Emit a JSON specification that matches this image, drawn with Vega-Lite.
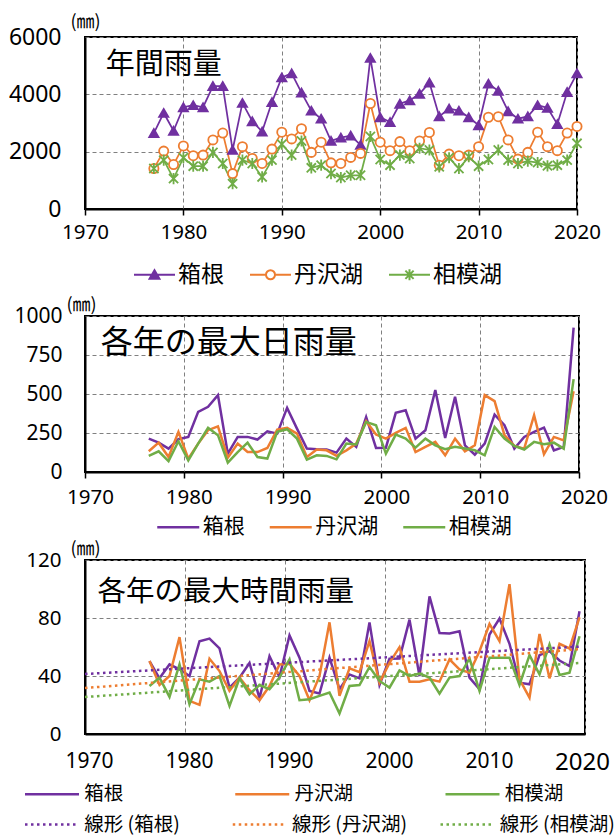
{
"$schema":"https://vega.github.io/schema/vega-lite/v6.json",
"padding":{"left":0,"top":12,"right":0,"bottom":0},
"spacing":0,
"resolve":{
 "scale":{"color":"independent","stroke":"independent","fill":"independent","shape":"independent","strokeDash":"independent"},
 "legend":{"color":"independent","stroke":"independent","fill":"independent","shape":"independent","strokeDash":"independent"}
},
"config":{
 "view":{"stroke":"black","strokeWidth":2},
 "axis":{"labelFont":"Noto Sans","labelColor":"black","labelOverlap":false,"gridColor":"#808080","gridDash":[4,3],"gridWidth":1,"domainColor":"black","domainWidth":2,"tickColor":"black","tickWidth":1.5,"titleFont":"Noto Sans CJK JP","titleFontWeight":"normal","titleColor":"black"},
 "axisX":{"labelFlush":false},
 "legend":{"labelFont":"Noto Sans CJK JP","labelColor":"black"},
 "text":{"font":"Noto Sans CJK JP"}
},
"datasets":{
"annual":[
{"year":1977,"site":"箱根","mm":2650},{"year":1978,"site":"箱根","mm":3350},{"year":1979,"site":"箱根","mm":2730},{"year":1980,"site":"箱根","mm":3550},{"year":1981,"site":"箱根","mm":3620},{"year":1982,"site":"箱根","mm":3550},{"year":1983,"site":"箱根","mm":4290},{"year":1984,"site":"箱根","mm":4290},{"year":1985,"site":"箱根","mm":2060},{"year":1986,"site":"箱根","mm":3700},
{"year":1987,"site":"箱根","mm":3060},{"year":1988,"site":"箱根","mm":2700},{"year":1989,"site":"箱根","mm":3730},{"year":1990,"site":"箱根","mm":4590},{"year":1991,"site":"箱根","mm":4730},{"year":1992,"site":"箱根","mm":4060},{"year":1993,"site":"箱根","mm":3430},{"year":1994,"site":"箱根","mm":3150},{"year":1995,"site":"箱根","mm":2375},{"year":1996,"site":"箱根","mm":2490},
{"year":1997,"site":"箱根","mm":2560},{"year":1998,"site":"箱根","mm":2235},{"year":1999,"site":"箱根","mm":5270},{"year":2000,"site":"箱根","mm":3200},{"year":2001,"site":"箱根","mm":3030},{"year":2002,"site":"箱根","mm":3670},{"year":2003,"site":"箱根","mm":3790},{"year":2004,"site":"箱根","mm":4020},{"year":2005,"site":"箱根","mm":4410},{"year":2006,"site":"箱根","mm":3230},
{"year":2007,"site":"箱根","mm":3500},{"year":2008,"site":"箱根","mm":3430},{"year":2009,"site":"箱根","mm":3200},{"year":2010,"site":"箱根","mm":2920},{"year":2011,"site":"箱根","mm":4370},{"year":2012,"site":"箱根","mm":4120},{"year":2013,"site":"箱根","mm":3410},{"year":2014,"site":"箱根","mm":3150},{"year":2015,"site":"箱根","mm":3230},{"year":2016,"site":"箱根","mm":3620},
{"year":2017,"site":"箱根","mm":3530},{"year":2018,"site":"箱根","mm":2960},{"year":2019,"site":"箱根","mm":4080},{"year":2020,"site":"箱根","mm":4730},
{"year":1977,"site":"丹沢湖","mm":1410},{"year":1978,"site":"丹沢湖","mm":2020},{"year":1979,"site":"丹沢湖","mm":1550},{"year":1980,"site":"丹沢湖","mm":2200},{"year":1981,"site":"丹沢湖","mm":1860},{"year":1982,"site":"丹沢湖","mm":1880},{"year":1983,"site":"丹沢湖","mm":2410},{"year":1984,"site":"丹沢湖","mm":2650},{"year":1985,"site":"丹沢湖","mm":1235},{"year":1986,"site":"丹沢湖","mm":2175},
{"year":1987,"site":"丹沢湖","mm":1765},{"year":1988,"site":"丹沢湖","mm":1590},{"year":1989,"site":"丹沢湖","mm":2090},{"year":1990,"site":"丹沢湖","mm":2680},{"year":1991,"site":"丹沢湖","mm":2445},{"year":1992,"site":"丹沢湖","mm":2800},{"year":1993,"site":"丹沢湖","mm":1975},{"year":1994,"site":"丹沢湖","mm":2330},{"year":1995,"site":"丹沢湖","mm":1610},{"year":1996,"site":"丹沢湖","mm":1590},
{"year":1997,"site":"丹沢湖","mm":1800},{"year":1998,"site":"丹沢湖","mm":1940},{"year":1999,"site":"丹沢湖","mm":3680},{"year":2000,"site":"丹沢湖","mm":2330},{"year":2001,"site":"丹沢湖","mm":2035},{"year":2002,"site":"丹沢湖","mm":2350},{"year":2003,"site":"丹沢湖","mm":2035},{"year":2004,"site":"丹沢湖","mm":2375},{"year":2005,"site":"丹沢湖","mm":2670},{"year":2006,"site":"丹沢湖","mm":1530},
{"year":2007,"site":"丹沢湖","mm":1915},{"year":2008,"site":"丹沢湖","mm":1860},{"year":2009,"site":"丹沢湖","mm":1880},{"year":2010,"site":"丹沢湖","mm":2175},{"year":2011,"site":"丹沢湖","mm":3200},{"year":2012,"site":"丹沢湖","mm":3220},{"year":2013,"site":"丹沢湖","mm":2410},{"year":2014,"site":"丹沢湖","mm":1740},{"year":2015,"site":"丹沢湖","mm":1975},{"year":2016,"site":"丹沢湖","mm":2680},
{"year":2017,"site":"丹沢湖","mm":2175},{"year":2018,"site":"丹沢湖","mm":2035},{"year":2019,"site":"丹沢湖","mm":2650},{"year":2020,"site":"丹沢湖","mm":2880},
{"year":1977,"site":"相模湖","mm":1410},{"year":1978,"site":"相模湖","mm":1705},{"year":1979,"site":"相模湖","mm":1060},{"year":1980,"site":"相模湖","mm":1790},{"year":1981,"site":"相模湖","mm":1495},{"year":1982,"site":"相模湖","mm":1495},{"year":1983,"site":"相模湖","mm":1975},{"year":1984,"site":"相模湖","mm":1590},{"year":1985,"site":"相模湖","mm":880},{"year":1986,"site":"相模湖","mm":1705},
{"year":1987,"site":"相模湖","mm":1590},{"year":1988,"site":"相模湖","mm":1120},{"year":1989,"site":"相模湖","mm":1705},{"year":1990,"site":"相模湖","mm":2260},{"year":1991,"site":"相模湖","mm":1880},{"year":1992,"site":"相模湖","mm":2375},{"year":1993,"site":"相模湖","mm":1435},{"year":1994,"site":"相模湖","mm":1530},{"year":1995,"site":"相模湖","mm":1235},{"year":1996,"site":"相模湖","mm":1095},
{"year":1997,"site":"相模湖","mm":1175},{"year":1998,"site":"相模湖","mm":1175},{"year":1999,"site":"相模湖","mm":2530},{"year":2000,"site":"相模湖","mm":1730},{"year":2001,"site":"相模湖","mm":1530},{"year":2002,"site":"相模湖","mm":1880},{"year":2003,"site":"相模湖","mm":1765},{"year":2004,"site":"相模湖","mm":2120},{"year":2005,"site":"相模湖","mm":2060},{"year":2006,"site":"相模湖","mm":1470},
{"year":2007,"site":"相模湖","mm":1790},{"year":2008,"site":"相模湖","mm":1410},{"year":2009,"site":"相模湖","mm":1820},{"year":2010,"site":"相模湖","mm":1495},{"year":2011,"site":"相模湖","mm":1730},{"year":2012,"site":"相模湖","mm":2060},{"year":2013,"site":"相模湖","mm":1705},{"year":2014,"site":"相模湖","mm":1590},{"year":2015,"site":"相模湖","mm":1670},{"year":2016,"site":"相模湖","mm":1620},
{"year":2017,"site":"相模湖","mm":1505},{"year":2018,"site":"相模湖","mm":1530},{"year":2019,"site":"相模湖","mm":1705},{"year":2020,"site":"相模湖","mm":2290}
],
"daily":[
{"year":1976,"site":"箱根","mm":214},{"year":1977,"site":"箱根","mm":188},{"year":1978,"site":"箱根","mm":150},{"year":1979,"site":"箱根","mm":210},{"year":1980,"site":"箱根","mm":225},{"year":1981,"site":"箱根","mm":386},{"year":1982,"site":"箱根","mm":418},{"year":1983,"site":"箱根","mm":493},{"year":1984,"site":"箱根","mm":118},{"year":1985,"site":"箱根","mm":225},
{"year":1986,"site":"箱根","mm":225},{"year":1987,"site":"箱根","mm":208},{"year":1988,"site":"箱根","mm":261},{"year":1989,"site":"箱根","mm":246},{"year":1990,"site":"箱根","mm":411},{"year":1991,"site":"箱根","mm":278},{"year":1992,"site":"箱根","mm":150},{"year":1993,"site":"箱根","mm":146},{"year":1994,"site":"箱根","mm":144},{"year":1995,"site":"箱根","mm":124},
{"year":1996,"site":"箱根","mm":214},{"year":1997,"site":"箱根","mm":161},{"year":1998,"site":"箱根","mm":353},{"year":1999,"site":"箱根","mm":154},{"year":2000,"site":"箱根","mm":156},{"year":2001,"site":"箱根","mm":379},{"year":2002,"site":"箱根","mm":396},{"year":2003,"site":"箱根","mm":214},{"year":2004,"site":"箱根","mm":268},{"year":2005,"site":"箱根","mm":525},
{"year":2006,"site":"箱根","mm":218},{"year":2007,"site":"箱根","mm":482},{"year":2008,"site":"箱根","mm":171},{"year":2009,"site":"箱根","mm":111},{"year":2010,"site":"箱根","mm":182},{"year":2011,"site":"箱根","mm":368},{"year":2012,"site":"箱根","mm":300},{"year":2013,"site":"箱根","mm":150},{"year":2014,"site":"箱根","mm":225},{"year":2015,"site":"箱根","mm":257},
{"year":2016,"site":"箱根","mm":285},{"year":2017,"site":"箱根","mm":139},{"year":2018,"site":"箱根","mm":161},{"year":2019,"site":"箱根","mm":925},
{"year":1976,"site":"丹沢湖","mm":133},{"year":1977,"site":"丹沢湖","mm":188},{"year":1978,"site":"丹沢湖","mm":96},{"year":1979,"site":"丹沢湖","mm":257},{"year":1980,"site":"丹沢湖","mm":86},{"year":1981,"site":"丹沢湖","mm":182},{"year":1982,"site":"丹沢湖","mm":268},{"year":1983,"site":"丹沢湖","mm":293},{"year":1984,"site":"丹沢湖","mm":92},{"year":1985,"site":"丹沢湖","mm":182},
{"year":1986,"site":"丹沢湖","mm":128},{"year":1987,"site":"丹沢湖","mm":128},{"year":1988,"site":"丹沢湖","mm":154},{"year":1989,"site":"丹沢湖","mm":272},{"year":1990,"site":"丹沢湖","mm":283},{"year":1991,"site":"丹沢湖","mm":246},{"year":1992,"site":"丹沢湖","mm":96},{"year":1993,"site":"丹沢湖","mm":144},{"year":1994,"site":"丹沢湖","mm":139},{"year":1995,"site":"丹沢湖","mm":103},
{"year":1996,"site":"丹沢湖","mm":139},{"year":1997,"site":"丹沢湖","mm":182},{"year":1998,"site":"丹沢湖","mm":326},{"year":1999,"site":"丹沢湖","mm":240},{"year":2000,"site":"丹沢湖","mm":214},{"year":2001,"site":"丹沢湖","mm":251},{"year":2002,"site":"丹沢湖","mm":283},{"year":2003,"site":"丹沢湖","mm":128},{"year":2004,"site":"丹沢湖","mm":161},{"year":2005,"site":"丹沢湖","mm":193},
{"year":2006,"site":"丹沢湖","mm":107},{"year":2007,"site":"丹沢湖","mm":214},{"year":2008,"site":"丹沢湖","mm":133},{"year":2009,"site":"丹沢湖","mm":171},{"year":2010,"site":"丹沢湖","mm":493},{"year":2011,"site":"丹沢湖","mm":454},{"year":2012,"site":"丹沢湖","mm":236},{"year":2013,"site":"丹沢湖","mm":167},{"year":2014,"site":"丹沢湖","mm":150},{"year":2015,"site":"丹沢湖","mm":364},
{"year":2016,"site":"丹沢湖","mm":114},{"year":2017,"site":"丹沢湖","mm":225},{"year":2018,"site":"丹沢湖","mm":203},{"year":2019,"site":"丹沢湖","mm":518},
{"year":1976,"site":"相模湖","mm":103},{"year":1977,"site":"相模湖","mm":133},{"year":1978,"site":"相模湖","mm":69},{"year":1979,"site":"相模湖","mm":197},{"year":1980,"site":"相模湖","mm":75},{"year":1981,"site":"相模湖","mm":182},{"year":1982,"site":"相模湖","mm":283},{"year":1983,"site":"相模湖","mm":236},{"year":1984,"site":"相模湖","mm":60},{"year":1985,"site":"相模湖","mm":128},
{"year":1986,"site":"相模湖","mm":188},{"year":1987,"site":"相模湖","mm":96},{"year":1988,"site":"相模湖","mm":86},{"year":1989,"site":"相模湖","mm":257},{"year":1990,"site":"相模湖","mm":274},{"year":1991,"site":"相模湖","mm":214},{"year":1992,"site":"相模湖","mm":79},{"year":1993,"site":"相模湖","mm":107},{"year":1994,"site":"相模湖","mm":103},{"year":1995,"site":"相模湖","mm":81},
{"year":1996,"site":"相模湖","mm":182},{"year":1997,"site":"相模湖","mm":176},{"year":1998,"site":"相模湖","mm":321},{"year":1999,"site":"相模湖","mm":300},{"year":2000,"site":"相模湖","mm":118},{"year":2001,"site":"相模湖","mm":240},{"year":2002,"site":"相模湖","mm":214},{"year":2003,"site":"相模湖","mm":156},{"year":2004,"site":"相模湖","mm":214},{"year":2005,"site":"相模湖","mm":171},
{"year":2006,"site":"相模湖","mm":146},{"year":2007,"site":"相模湖","mm":161},{"year":2008,"site":"相模湖","mm":150},{"year":2009,"site":"相模湖","mm":139},{"year":2010,"site":"相模湖","mm":107},{"year":2011,"site":"相模湖","mm":289},{"year":2012,"site":"相模湖","mm":214},{"year":2013,"site":"相模湖","mm":167},{"year":2014,"site":"相模湖","mm":144},{"year":2015,"site":"相模湖","mm":193},
{"year":2016,"site":"相模湖","mm":178},{"year":2017,"site":"相模湖","mm":188},{"year":2018,"site":"相模湖","mm":150},{"year":2019,"site":"相模湖","mm":595}
],
"hourly":[
{"year":1976,"site":"箱根","mm":50.3},{"year":1977,"site":"箱根","mm":38.4},{"year":1978,"site":"箱根","mm":48},{"year":1979,"site":"箱根","mm":44.6},{"year":1980,"site":"箱根","mm":40},{"year":1981,"site":"箱根","mm":64},{"year":1982,"site":"箱根","mm":65.8},{"year":1983,"site":"箱根","mm":59},{"year":1984,"site":"箱根","mm":32},{"year":1985,"site":"箱根","mm":38.9},
{"year":1986,"site":"箱根","mm":49},{"year":1987,"site":"箱根","mm":24.7},{"year":1988,"site":"箱根","mm":53.7},{"year":1989,"site":"箱根","mm":39.3},{"year":1990,"site":"箱根","mm":68},{"year":1991,"site":"箱根","mm":52.6},{"year":1992,"site":"箱根","mm":29.7},{"year":1993,"site":"箱根","mm":27.9},{"year":1994,"site":"箱根","mm":52.6},{"year":1995,"site":"箱根","mm":30.9},
{"year":1996,"site":"箱根","mm":41.1},{"year":1997,"site":"箱根","mm":38.4},{"year":1998,"site":"箱根","mm":77},{"year":1999,"site":"箱根","mm":33.8},{"year":2000,"site":"箱根","mm":51.9},{"year":2001,"site":"箱根","mm":52.1},{"year":2002,"site":"箱根","mm":78.9},{"year":2003,"site":"箱根","mm":40},{"year":2004,"site":"箱根","mm":94.9},{"year":2005,"site":"箱根","mm":69.7},
{"year":2006,"site":"箱根","mm":69.3},{"year":2007,"site":"箱根","mm":70.9},{"year":2008,"site":"箱根","mm":38.9},{"year":2009,"site":"箱根","mm":30.9},{"year":2010,"site":"箱根","mm":68.6},{"year":2011,"site":"箱根","mm":79.6},{"year":2012,"site":"箱根","mm":62.2},{"year":2013,"site":"箱根","mm":35.4},{"year":2014,"site":"箱根","mm":34.3},{"year":2015,"site":"箱根","mm":54.4},
{"year":2016,"site":"箱根","mm":57.1},{"year":2017,"site":"箱根","mm":50.7},{"year":2018,"site":"箱根","mm":46.9},{"year":2019,"site":"箱根","mm":84.6},
{"year":1976,"site":"丹沢湖","mm":50.3},{"year":1977,"site":"丹沢湖","mm":33.8},{"year":1978,"site":"丹沢湖","mm":40},{"year":1979,"site":"丹沢湖","mm":66.8},{"year":1980,"site":"丹沢湖","mm":22.9},{"year":1981,"site":"丹沢湖","mm":20.1},{"year":1982,"site":"丹沢湖","mm":51.9},{"year":1983,"site":"丹沢湖","mm":43.4},{"year":1984,"site":"丹沢湖","mm":29.7},{"year":1985,"site":"丹沢湖","mm":38.9},
{"year":1986,"site":"丹沢湖","mm":30.2},{"year":1987,"site":"丹沢湖","mm":23.3},{"year":1988,"site":"丹沢湖","mm":33.1},{"year":1989,"site":"丹沢湖","mm":48},{"year":1990,"site":"丹沢湖","mm":48.5},{"year":1991,"site":"丹沢湖","mm":40},{"year":1992,"site":"丹沢湖","mm":23.3},{"year":1993,"site":"丹沢湖","mm":40},{"year":1994,"site":"丹沢湖","mm":77},{"year":1995,"site":"丹沢湖","mm":26.3},
{"year":1996,"site":"丹沢湖","mm":45.3},{"year":1997,"site":"丹沢湖","mm":42.7},{"year":1998,"site":"丹沢湖","mm":64},{"year":1999,"site":"丹沢湖","mm":35.4},{"year":2000,"site":"丹沢湖","mm":49},{"year":2001,"site":"丹沢湖","mm":59.9},{"year":2002,"site":"丹沢湖","mm":36.1},{"year":2003,"site":"丹沢湖","mm":36.1},{"year":2004,"site":"丹沢湖","mm":37.7},{"year":2005,"site":"丹沢湖","mm":36.1},
{"year":2006,"site":"丹沢湖","mm":51.4},{"year":2007,"site":"丹沢湖","mm":44.6},{"year":2008,"site":"丹沢湖","mm":42.3},{"year":2009,"site":"丹沢湖","mm":57.1},{"year":2010,"site":"丹沢湖","mm":75.9},{"year":2011,"site":"丹沢湖","mm":64},{"year":2012,"site":"丹沢湖","mm":103.3},{"year":2013,"site":"丹沢湖","mm":37.7},{"year":2014,"site":"丹沢湖","mm":25.1},{"year":2015,"site":"丹沢湖","mm":69},
{"year":2016,"site":"丹沢湖","mm":38.4},{"year":2017,"site":"丹沢湖","mm":62.2},{"year":2018,"site":"丹沢湖","mm":59},{"year":2019,"site":"丹沢湖","mm":80.5},
{"year":1976,"site":"相模湖","mm":33.1},{"year":1977,"site":"相模湖","mm":38.9},{"year":1978,"site":"相模湖","mm":25.6},{"year":1979,"site":"相模湖","mm":48},{"year":1980,"site":"相模湖","mm":20.6},{"year":1981,"site":"相模湖","mm":37.7},{"year":1982,"site":"相模湖","mm":36.1},{"year":1983,"site":"相模湖","mm":40},{"year":1984,"site":"相模湖","mm":19.4},{"year":1985,"site":"相模湖","mm":38.4},
{"year":1986,"site":"相模湖","mm":27.4},{"year":1987,"site":"相模湖","mm":33.8},{"year":1988,"site":"相模湖","mm":30.9},{"year":1989,"site":"相模湖","mm":38.9},{"year":1990,"site":"相模湖","mm":51.4},{"year":1991,"site":"相模湖","mm":23.3},{"year":1992,"site":"相模湖","mm":24},{"year":1993,"site":"相模湖","mm":26.3},{"year":1994,"site":"相模湖","mm":28.6},{"year":1995,"site":"相模湖","mm":14.2},
{"year":1996,"site":"相模湖","mm":33.1},{"year":1997,"site":"相模湖","mm":33.8},{"year":1998,"site":"相模湖","mm":46.2},{"year":1999,"site":"相模湖","mm":36.6},{"year":2000,"site":"相模湖","mm":32},{"year":2001,"site":"相模湖","mm":43.9},{"year":2002,"site":"相模湖","mm":40},{"year":2003,"site":"相模湖","mm":41.6},{"year":2004,"site":"相模湖","mm":38.9},{"year":2005,"site":"相模湖","mm":27.9},
{"year":2006,"site":"相模湖","mm":38.9},{"year":2007,"site":"相模湖","mm":40},{"year":2008,"site":"相模湖","mm":52.1},{"year":2009,"site":"相模湖","mm":29.7},{"year":2010,"site":"相模湖","mm":52.6},{"year":2011,"site":"相模湖","mm":52.6},{"year":2012,"site":"相模湖","mm":52.6},{"year":2013,"site":"相模湖","mm":33.8},{"year":2014,"site":"相模湖","mm":54.4},{"year":2015,"site":"相模湖","mm":41.1},
{"year":2016,"site":"相模湖","mm":61.7},{"year":2017,"site":"相模湖","mm":40.7},{"year":2018,"site":"相模湖","mm":42.3},{"year":2019,"site":"相模湖","mm":67.4}
],
"trend":[
{"year":1970,"site":"線形 (箱根)","mm":41.4},{"year":2019.5,"site":"線形 (箱根)","mm":60.3},
{"year":1970,"site":"線形 (丹沢湖)","mm":31.7},{"year":2019.5,"site":"線形 (丹沢湖)","mm":58.5},
{"year":1970,"site":"線形 (相模湖)","mm":25.5},{"year":2019.5,"site":"線形 (相模湖)","mm":49}
]
},
"vconcat":[
{"hconcat":[
{
 "width":492,"height":172,
 "resolve":{"scale":{"shape":"independent","fill":"independent","stroke":"independent"},"legend":{"shape":"independent","fill":"independent","stroke":"independent"}},
 "layer":[
  {"data":{"name":"annual"},"mark":{"type":"line","strokeWidth":1.75},
   "encoding":{
    "x":{"field":"year","type":"quantitative","scale":{"domain":[1970,2020],"nice":false,"zero":false},
      "axis":{"values":[1970,1980,1990,2000,2010,2020],"format":"d","grid":true,"ticks":true,"tickSize":6,"labelFontSize":20.5,"labelPadding":7,"labelFlush":false,"title":null}},
    "y":{"field":"mm","type":"quantitative","scale":{"domain":[0,6000],"nice":false},
      "axis":{"values":[0,2000,4000,6000],"tickCount":10,"format":"d","grid":true,"ticks":false,"labelPadding":24,"labelFontSize":23,"title":"(㎜)","titleAngle":0,"titleX":0,"titleY":-15,"titleAlign":"center","titleBaseline":"middle","titleFontSize":18,"minExtent":84,"maxExtent":84}},
    "color":{"field":"site","type":"nominal","scale":{"domain":["箱根","丹沢湖","相模湖"],"range":["#7030A0","#ED7D31","#70AD47"]},"legend":null}
   }},
  {"data":{"name":"annual"},"mark":{"type":"point","filled":true,"size":85,"strokeWidth":1.8,"opacity":1},
   "encoding":{
    "x":{"field":"year","type":"quantitative"},
    "y":{"field":"mm","type":"quantitative"},
    "shape":{"field":"site","type":"nominal","scale":{"domain":["箱根","丹沢湖","相模湖"],"range":["triangle-up","circle","M-1,-1L1,1M1,-1L-1,1M0,-1.2L0,1.2"]},"legend":null},
    "fill":{"field":"site","type":"nominal","scale":{"domain":["箱根","丹沢湖","相模湖"],"range":["#7030A0","#FFFFFF","#70AD47"]},"legend":null},
    "stroke":{"field":"site","type":"nominal","scale":{"domain":["箱根","丹沢湖","相模湖"],"range":["#7030A0","#ED7D31","#70AD47"]},"legend":null}
   }},
  {"data":{"name":"annual"},"transform":[{"filter":"false"}],"mark":{"type":"point","filled":true,"strokeWidth":2},
   "encoding":{
    "shape":{"field":"site","type":"nominal","scale":{"domain":["箱根","丹沢湖","相模湖"],"range":["M-1,0L1,0M0,-0.22L0.24,0.2L-0.24,0.2Z","M-1,0L-0.22,0M0.22,0L1,0M0.22,0A0.22,0.22 0 1,1 -0.22,0A0.22,0.22 0 1,1 0.22,0Z","M-1,0L1,0M-0.2,-0.2L0.2,0.2M0.2,-0.2L-0.2,0.2M0,-0.27L0,0.27"]},
      "legend":{"orient":"none","legendX":41.5,"legendY":209.5,"padding":6.5,"direction":"horizontal","symbolSize":1681,"symbolStrokeWidth":2,"symbolOpacity":1,"labelOffset":2,"columnPadding":22,"labelFontSize":23,"title":null}},
    "fill":{"field":"site","type":"nominal","scale":{"domain":["箱根","丹沢湖","相模湖"],"range":["#7030A0","#FFFFFF","#70AD47"]},
      "legend":{"orient":"none","legendX":41.5,"legendY":209.5,"padding":6.5,"direction":"horizontal","symbolSize":1681,"symbolStrokeWidth":2,"symbolOpacity":1,"labelOffset":2,"columnPadding":22,"labelFontSize":23,"title":null}},
    "stroke":{"field":"site","type":"nominal","scale":{"domain":["箱根","丹沢湖","相模湖"],"range":["#7030A0","#ED7D31","#70AD47"]},
      "legend":{"orient":"none","legendX":41.5,"legendY":209.5,"padding":6.5,"direction":"horizontal","symbolSize":1681,"symbolStrokeWidth":2,"symbolOpacity":1,"labelOffset":2,"columnPadding":22,"labelFontSize":23,"title":null}}
   }},
  {"data":{"values":[{"label":"年間雨量"}]},"mark":{"type":"text","align":"left","baseline":"middle","fontSize":29,"color":"black"},
   "encoding":{"x":{"datum":1972.1,"type":"quantitative"},"y":{"datum":5007,"type":"quantitative"},"text":{"field":"label"}}}
 ]
}],
"resolve":{"scale":{"color":"independent","stroke":"independent","fill":"independent","shape":"independent"},"legend":{"color":"independent","stroke":"independent","fill":"independent","shape":"independent"}}
},
{"hconcat":[
{
 "width":494,"height":156,
 "layer":[
  {"data":{"name":"daily"},"mark":{"type":"line","strokeWidth":2.5,"xOffset":4.5},
   "encoding":{
    "x":{"field":"year","type":"quantitative","scale":{"domain":[1970,2020],"nice":false,"zero":false},
      "axis":{"values":[1970,1980,1990,2000,2010,2020],"format":"d","grid":true,"ticks":true,"tickSize":6,"labelFontSize":20.5,"labelPadding":9,"labelOffset":5,"labelFlush":false,"title":null}},
    "y":{"field":"mm","type":"quantitative","scale":{"domain":[0,1000],"nice":false},
      "axis":{"values":[0,250,500,750,1000],"tickCount":10,"format":"d","grid":true,"ticks":false,"labelPadding":23,"labelFontSize":21,"title":"(㎜)","titleAngle":0,"titleX":-4,"titleY":-11,"titleAlign":"center","titleBaseline":"middle","titleFontSize":18,"minExtent":84,"maxExtent":84}},
    "color":{"field":"site","type":"nominal","scale":{"domain":["箱根","丹沢湖","相模湖"],"range":["#7030A0","#ED7D31","#70AD47"]},
      "legend":{"orient":"none","legendX":70.75,"legendY":188.5,"direction":"horizontal","symbolType":"stroke","symbolSize":1764,"symbolStrokeWidth":2.5,"labelOffset":2,"columnPadding":19.5,"labelFontSize":21,"title":null}}
   }},
  {"data":{"values":[{"label":"各年の最大日雨量"}]},"mark":{"type":"text","align":"left","baseline":"middle","fontSize":32,"color":"black"},
   "encoding":{"x":{"datum":1971.6,"type":"quantitative"},"y":{"datum":830,"type":"quantitative"},"text":{"field":"label"}}}
 ]
}],
"resolve":{"scale":{"color":"independent"},"legend":{"color":"independent"}}
},
{"hconcat":[
{
 "width":500,"height":174,
 "resolve":{"scale":{"color":"independent"},"legend":{"color":"independent"}},
 "layer":[
  {"data":{"name":"hourly"},"mark":{"type":"line","strokeWidth":2.5,"xOffset":4.5},
   "encoding":{
    "x":{"field":"year","type":"quantitative","scale":{"domain":[1970,2020],"nice":false,"zero":false},
      "axis":{"values":[1970,1980,1990,2000,2010,2020],"format":"d","grid":true,"ticks":false,"labelFontSize":{"condition":{"test":"datum.value == 2020","value":24},"value":21},"labelPadding":16,"labelOffset":{"condition":{"test":"datum.value == 2020","value":-3},"value":4},"labelFlush":false,"title":null}},
    "y":{"field":"mm","type":"quantitative","scale":{"domain":[0,120],"nice":false},
      "axis":{"values":[0,40,80,120],"tickCount":10,"format":"d","grid":true,"ticks":false,"labelPadding":24,"labelFontSize":20.5,"title":"(㎜)","titleAngle":0,"titleX":0,"titleY":-11,"titleAlign":"center","titleBaseline":"middle","titleFontSize":18,"minExtent":84,"maxExtent":84}},
    "color":{"field":"site","type":"nominal","scale":{"domain":["箱根","丹沢湖","相模湖"],"range":["#7030A0","#ED7D31","#70AD47"]},
      "legend":{"orient":"none","legendX":-61.5,"legendY":205.75,"direction":"horizontal","gridAlign":"all","symbolType":"stroke","symbolSize":2916,"symbolStrokeWidth":2.5,"labelOffset":3.75,"columnPadding":86.25,"labelFontSize":19.5,"title":null}}
   }},
  {"data":{"name":"trend"},"mark":{"type":"line","strokeWidth":2.5,"strokeDash":[2.5,3.5]},
   "encoding":{
    "x":{"field":"year","type":"quantitative"},
    "y":{"field":"mm","type":"quantitative"},
    "color":{"field":"site","type":"nominal","scale":{"domain":["線形 (箱根)","線形 (丹沢湖)","線形 (相模湖)"],"range":["#7030A0","#ED7D31","#70AD47"]},
      "legend":{"orient":"none","legendX":-61.5,"legendY":236,"direction":"horizontal","gridAlign":"all","symbolType":"stroke","symbolSize":2916,"symbolStrokeWidth":2.5,"symbolDash":[2.5,3.5],"labelOffset":3.75,"columnPadding":27.75,"labelFontSize":19.5,"title":null}}
   }},
  {"data":{"values":[{"label":"各年の最大時間雨量"}]},"mark":{"type":"text","align":"left","baseline":"middle","fontSize":28.5,"color":"black"},
   "encoding":{"x":{"datum":1971.26,"type":"quantitative"},"y":{"datum":98,"type":"quantitative"},"text":{"field":"label"}}}
 ]
}],
"resolve":{"scale":{"color":"independent"},"legend":{"color":"independent"}}
}
]
}
